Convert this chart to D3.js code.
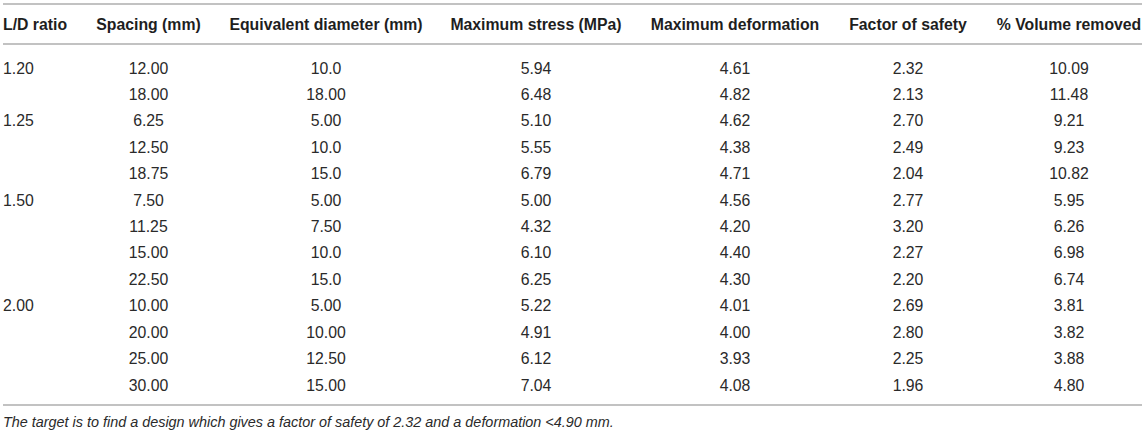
<!DOCTYPE html>
<html>
<head>
<meta charset="utf-8">
<script src="https://cdn.jsdelivr.net/npm/d3@7/dist/d3.min.js"></script>
<style>
  html, body { margin: 0; padding: 0; background: #fff; }
  svg { display: block; }
  text { font-family: "Liberation Sans", Arial, Helvetica, sans-serif; }
</style>
</head>
<body>
<svg id="chart" width="1145" height="434"></svg>
<script>
// ---- data ----
const headers = ["L/D ratio", "Spacing (mm)", "Equivalent diameter (mm)", "Maximum stress (MPa)", "Maximum deformation", "Factor of safety", "% Volume removed"];
const ldRatio = ["1.20", "", "1.25", "", "", "1.50", "", "", "", "2.00", "", "", ""];
const spacing = ["12.00", "18.00", "6.25", "12.50", "18.75", "7.50", "11.25", "15.00", "22.50", "10.00", "20.00", "25.00", "30.00"];
const eqDiameter = ["10.0", "18.00", "5.00", "10.0", "15.0", "5.00", "7.50", "10.0", "15.0", "5.00", "10.00", "12.50", "15.00"];
const maxStress = ["5.94", "6.48", "5.10", "5.55", "6.79", "5.00", "4.32", "6.10", "6.25", "5.22", "4.91", "6.12", "7.04"];
const maxDeformation = ["4.61", "4.82", "4.62", "4.38", "4.71", "4.56", "4.20", "4.40", "4.30", "4.01", "4.00", "3.93", "4.08"];
const safetyFactor = ["2.32", "2.13", "2.70", "2.49", "2.04", "2.77", "3.20", "2.27", "2.20", "2.69", "2.80", "2.25", "1.96"];
const volumeRemoved = ["10.09", "11.48", "9.21", "9.23", "10.82", "5.95", "6.26", "6.98", "6.74", "3.81", "3.82", "3.88", "4.80"];
const footnote = "The target is to find a design which gives a factor of safety of 2.32 and a deformation <4.90 mm.";

const columns = [ldRatio, spacing, eqDiameter, maxStress, maxDeformation, safetyFactor, volumeRemoved];

// ---- layout ----
const W = 1145, H = 434;
const svg = d3.select("#chart");
const colX = [3, 148.5, 326, 536, 735, 908, 1069];   // col 0 left-aligned, others centered
const anchor = (i) => i === 0 ? "start" : "middle";

const rowIdx = d3.range(spacing.length);
const y = d3.scalePoint().domain(rowIdx).range([68, 385]);

const lineColor = "#c2c2c2";
const headColor = "#1e1e1e";
const textColor = "#2a2a2a";
const fs = 15.8;

// rules
[4, 44, 405].forEach(yy => {
  svg.append("line").attr("x1", 3).attr("x2", 1142).attr("y1", yy).attr("y2", yy)
    .attr("stroke", lineColor).attr("stroke-width", 2);
});

// header
svg.append("g").selectAll("text").data(headers).join("text")
  .attr("x", (d, i) => colX[i]).attr("y", 24.5)
  .attr("dy", "0.35em")
  .attr("text-anchor", (d, i) => anchor(i))
  .attr("font-weight", "bold").attr("font-size", fs)
  .attr("fill", headColor)
  .text(d => d);

// body
const body = svg.append("g");
columns.forEach((col, ci) => {
  body.append("g").selectAll("text").data(col).join("text")
    .attr("x", colX[ci]).attr("y", (d, ri) => y(ri))
    .attr("dy", "0.35em")
    .attr("text-anchor", anchor(ci))
    .attr("font-size", fs)
    .attr("fill", textColor)
    .text(d => d);
});

// footnote
svg.append("text").attr("x", 3).attr("y", 422).attr("dy", "0.35em")
  .attr("font-style", "italic").attr("font-size", 14.4).attr("fill", textColor)
  .text(footnote);
</script>
</body>
</html>
